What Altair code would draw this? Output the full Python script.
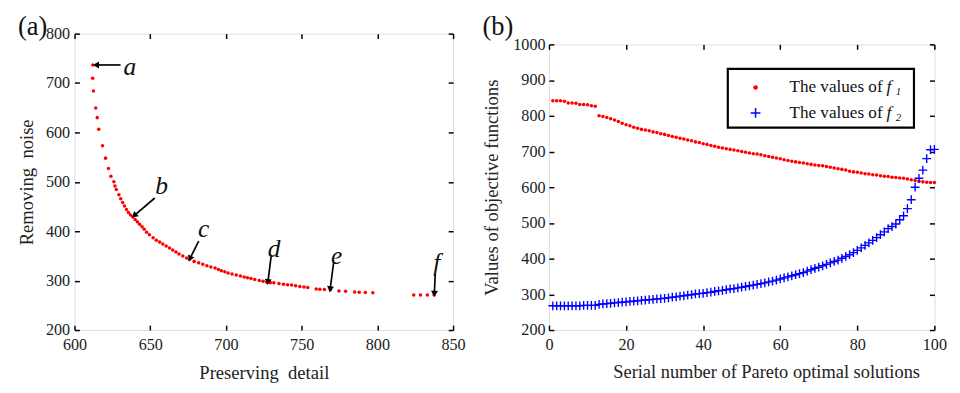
import math
import altair as alt
import pandas as pd

# ---------------- data ----------------
# panel (a): Pareto front
left_x = [612.1, 612.0, 612.5, 614.0, 615.0, 616.0, 618.5, 620.5, 622.4, 624.0,
          626.0, 626.7, 627.6, 629.3, 630.5, 631.8, 633.0, 634.3, 635.6, 637.0,
          638.5, 640.0, 641.5, 643.0, 644.6, 646.0, 647.6, 649.5, 651.9, 654.0,
          656.2, 658.3, 660.5, 662.7, 664.8, 667.0, 669.0, 671.5, 674.0, 676.0,
          679.0, 682.0, 684.7, 687.4, 690.0, 692.8, 695.0, 697.0, 699.2, 701.4,
          704.0, 706.8, 709.5, 712.0, 714.2, 716.5, 719.0, 722.0, 724.5, 727.0,
          729.3, 731.6, 735.0, 738.0, 740.7, 743.4, 746.0, 748.8, 751.5, 754.0,
          759.6, 762.0, 765.0, 769.0, 774.6, 779.0, 785.0, 788.0, 792.0, 797.0,
          824.0, 828.5, 833.0, 837.5]
left_y = [736.6, 709.5, 684.0, 649.5, 630.0, 606.5, 573.0, 548.0, 527.0, 511.5,
          500.0, 491.6, 484.5, 474.0, 466.0, 458.0, 451.0, 444.0, 438.0, 433.0,
          429.0, 424.0, 419.0, 414.0, 409.0, 404.0, 398.0, 393.0, 387.0, 382.0,
          378.0, 374.0, 370.0, 366.0, 362.0, 358.0, 354.0, 350.0, 346.0, 343.0,
          339.0, 336.0, 333.0, 330.0, 327.5, 325.4, 322.5, 320.0, 318.0, 315.5,
          313.5, 311.5, 309.5, 307.5, 306.0, 304.4, 302.5, 300.5, 298.8, 297.0,
          296.0, 295.5, 294.0, 292.5, 291.8, 291.0, 289.5, 288.0, 287.0, 286.0,
          283.0, 282.5, 282.0, 281.5, 279.0, 278.5, 277.0, 276.5, 276.0, 275.5,
          271.0, 271.0, 271.0, 271.0]

# annotations of panel (a): letter, letter position, arrow tail, arrow head
ann_label = ["a", "b", "c", "d", "e", "f"]
ann_lx = [636.5, 657.5, 685.3, 731.8, 773.1, 839.2]
ann_ly = [733.0, 491.0, 404.0, 364.4, 350.5, 335.3]
ann_tx = [630.4, 653.0, 682.0, 729.8, 771.2, 838.2]
ann_ty = [736.6, 467.3, 380.0, 348.5, 338.6, 312.3]
ann_hx = [614.2, 639.4, 676.2, 727.7, 768.8, 837.6]
ann_hy = [736.6, 431.7, 344.6, 297.0, 282.6, 273.5]

# panel (b): objective values of the 100 Pareto optimal solutions
serial = list(range(1, 101))
f1 = [842, 842, 842, 841, 836, 836, 835, 832, 832, 831,
      828, 827, 800, 798, 795, 792, 788, 784, 779, 775,
      772, 768, 765, 762, 760, 758, 755, 753, 750, 748,
      745, 742, 740, 737, 735, 732, 730, 727, 725, 722,
      720, 717, 715, 712, 710, 708, 706, 704, 702, 700,
      698, 696, 694, 693, 691, 688, 686, 684, 682, 680,
      677, 675, 673, 671, 669, 668, 666, 664, 662, 661,
      660, 658, 656, 654, 652, 650, 648, 645, 643, 642,
      640, 638, 637, 635, 634, 632, 631, 630, 628, 627,
      626, 625, 623, 621, 619, 617, 615, 614, 613, 613]
f2 = [268, 268, 268, 268, 268, 268, 268, 268, 269, 269,
      269, 269, 272, 273, 274, 275, 276, 277, 278, 279,
      280, 281, 282, 283, 284, 285, 286, 287, 288, 289,
      290, 292, 293, 295, 296, 298, 299, 301, 302, 303,
      305, 306, 308, 310, 311, 313, 315, 316, 318, 320,
      322, 324, 326, 328, 330, 332, 335, 337, 340, 343,
      346, 349, 352, 355, 358, 361, 365, 369, 373, 376,
      380, 384, 388, 392, 396, 401, 406, 411, 417, 423,
      430, 437, 444, 451, 459, 467, 475, 484, 490, 497,
      509, 520, 540, 565, 600, 625, 648, 680, 705, 706]

# legend of panel (b) (drawn by hand so that f can be italic with a subscript)
leg_text = ["The values of", "The values of"]
leg_sub = ["1", "2"]
leg_row_y = [879.5, 808.0]
leg_sub_y = [866.0, 794.5]
leg_box = dict(x=46.4, x2=94.7, y=931.5, y2=767.1)
leg_sym_x = 53.6
leg_text_x = 62.4
leg_f_x = 87.6
leg_sub_x = 90.0

# ---------------- styling ----------------
FONT = "Liberation Serif"
LW, LH = 387, 303
RW, RH = 394, 292
LXD, LYD = [600, 850], [200, 800]
RXD, RYD = [0, 100], [200, 1000]
RED, BLUE = "#ff0000", "#0000ff"
CROSS = "M-1,0L1,0M0,-1L0,1"


def axis(orient, values, title=None, labels=True, **kw):
    params = dict(orient=orient, values=values, domain=False, grid=False,
                  ticks=True, tickSize=5, offset=-5, tickColor="black",
                  tickWidth=1.5, labels=labels, labelFont=FONT, format="d",
                  labelFontSize=16.5, labelColor="#222", labelFlush=False,
                  titleFont=FONT, titleFontSize=19, titleFontWeight="normal",
                  titleColor="#222", title=title)
    params.update(kw)
    return alt.Axis(**params)


# ---------------- panel (a) ----------------
dfa = pd.DataFrame({"x": left_x, "y": left_y})
xs_a = alt.Scale(domain=LXD, nice=False, zero=False)
ys_a = alt.Scale(domain=LYD, nice=False, zero=False)

pts_a = alt.Chart(dfa).mark_circle(color=RED, size=13, opacity=1).encode(
    x=alt.X("x:Q", scale=xs_a,
            axis=axis("bottom", [600, 650, 700, 750, 800, 850],
                      "Preserving\u00a0\u00a0detail", labelPadding=7,
                      titlePadding=11)),
    y=alt.Y("y:Q", scale=ys_a,
            axis=axis("left", [200, 300, 400, 500, 600, 700, 800],
                      "Removing\u00a0\u00a0noise", labelPadding=5,
                      titlePadding=9)),
)
frame_a = alt.Chart(dfa).mark_point(opacity=0).encode(
    x=alt.X("x:Q", scale=xs_a,
            axis=axis("top", [600, 650, 700, 750, 800, 850], labels=False)),
    y=alt.Y("y:Q", scale=ys_a,
            axis=axis("right", [200, 300, 400, 500, 600, 700, 800], labels=False)),
)

px_x = LW / (LXD[1] - LXD[0])
px_y = LH / (LYD[1] - LYD[0])
angles = []
for tx, ty, hx, hy in zip(ann_tx, ann_ty, ann_hx, ann_hy):
    dx = (hx - tx) * px_x
    dy = -(hy - ty) * px_y
    angles.append((math.degrees(math.atan2(dx, -dy)) + 360) % 360)

dfann = pd.DataFrame({"label": ann_label, "lx": ann_lx, "ly": ann_ly,
                      "tx": ann_tx, "ty": ann_ty, "hx": ann_hx, "hy": ann_hy,
                      "ang": angles})
shafts = alt.Chart(dfann).mark_rule(color="black", strokeWidth=1.7).encode(
    x=alt.X("tx:Q", scale=xs_a, axis=None), y=alt.Y("ty:Q", scale=ys_a, axis=None),
    x2="hx:Q", y2="hy:Q")
heads = alt.Chart(dfann).mark_point(shape="triangle-up", filled=True,
                                    color="black", size=50, opacity=1).encode(
    x=alt.X("hx:Q", scale=xs_a, axis=None), y=alt.Y("hy:Q", scale=ys_a, axis=None),
    angle=alt.Angle("ang:Q", scale=None))
letters = alt.Chart(dfann).mark_text(font=FONT, fontSize=26, fontStyle="italic",
                                     color="#111").encode(
    x=alt.X("lx:Q", scale=xs_a, axis=None), y=alt.Y("ly:Q", scale=ys_a, axis=None),
    text="label:N")

left = alt.layer(pts_a, frame_a, shafts, heads, letters).resolve_axis(
    x="independent", y="independent").properties(
    width=LW, height=LH,
    title=alt.TitleParams("(a)", anchor="start", frame="bounds", font=FONT,
                          fontSize=27, fontWeight="normal", color="#111",
                          offset=-15))

# ---------------- panel (b) ----------------
dfb = pd.DataFrame({"n": serial, "f1": f1, "f2": f2})
xs_b = alt.Scale(domain=RXD, nice=False, zero=False)
ys_b = alt.Scale(domain=RYD, nice=False, zero=False)

pts_f1 = alt.Chart(dfb).mark_circle(color=RED, size=13, opacity=1).encode(
    x=alt.X("n:Q", scale=xs_b,
            axis=axis("bottom", [0, 20, 40, 60, 80, 100],
                      "Serial number of Pareto optimal solutions",
                      labelPadding=7, titlePadding=10, titleX=222,
                      titleFontSize=18.8)),
    y=alt.Y("f1:Q", scale=ys_b,
            axis=axis("left", [200, 300, 400, 500, 600, 700, 800, 900, 1000],
                      "Values of objective functions", labelPadding=4,
                      titlePadding=12)),
)
pts_f2 = alt.Chart(dfb).mark_point(shape=CROSS, filled=False, color=BLUE,
                                   size=80, strokeWidth=1.4, opacity=1).encode(
    x=alt.X("n:Q", scale=xs_b,
            axis=axis("top", [0, 20, 40, 60, 80, 100], labels=False)),
    y=alt.Y("f2:Q", scale=ys_b,
            axis=axis("right", [200, 300, 400, 500, 600, 700, 800, 900, 1000],
                      labels=False)),
)

dfbox = pd.DataFrame([leg_box])
box = alt.Chart(dfbox).mark_rect(fill="white", stroke="black", strokeWidth=2.2).encode(
    x=alt.X("x:Q", scale=xs_b, axis=None), x2="x2:Q",
    y=alt.Y("y:Q", scale=ys_b, axis=None), y2="y2:Q")
dfleg = pd.DataFrame({"sx": [leg_sym_x] * 2, "ry": leg_row_y, "sy": leg_sub_y,
                      "txt": leg_text, "sub": leg_sub, "tx": [leg_text_x] * 2,
                      "fx": [leg_f_x] * 2, "subx": [leg_sub_x] * 2,
                      "f": ["f", "f"]})
leg_dot = alt.Chart(dfleg.iloc[[0]]).mark_circle(color=RED, size=22, opacity=1).encode(
    x=alt.X("sx:Q", scale=xs_b, axis=None), y=alt.Y("ry:Q", scale=ys_b, axis=None))
leg_cross = alt.Chart(dfleg.iloc[[1]]).mark_point(
    shape=CROSS, filled=False, color=BLUE, size=100, strokeWidth=1.5, opacity=1).encode(
    x=alt.X("sx:Q", scale=xs_b, axis=None), y=alt.Y("ry:Q", scale=ys_b, axis=None))
leg_txt = alt.Chart(dfleg).mark_text(font=FONT, fontSize=17.5, align="left",
                                     baseline="middle", color="#111").encode(
    x=alt.X("tx:Q", scale=xs_b, axis=None), y=alt.Y("ry:Q", scale=ys_b, axis=None),
    text="txt:N")
leg_f = alt.Chart(dfleg).mark_text(font=FONT, fontSize=18, fontStyle="italic",
                                   align="left", baseline="middle",
                                   color="#111").encode(
    x=alt.X("fx:Q", scale=xs_b, axis=None), y=alt.Y("ry:Q", scale=ys_b, axis=None),
    text="f:N")
leg_s = alt.Chart(dfleg).mark_text(font=FONT, fontSize=11, fontStyle="italic",
                                   align="left", baseline="middle",
                                   color="#111").encode(
    x=alt.X("subx:Q", scale=xs_b, axis=None), y=alt.Y("sy:Q", scale=ys_b, axis=None),
    text="sub:N")

right = alt.layer(pts_f1, pts_f2, box, leg_dot, leg_cross, leg_txt, leg_f,
                  leg_s).resolve_axis(x="independent", y="independent").properties(
    width=RW, height=RH,
    title=alt.TitleParams("(b)", anchor="start", frame="bounds", font=FONT,
                          fontSize=27, fontWeight="normal", color="#111",
                          offset=-4))


# thin empty strips above each panel so that each panel's top is laid out on its own
def spacer(w):
    return alt.Chart(pd.DataFrame({"v": [0]})).mark_point(opacity=0).encode(
        x=alt.value(0), y=alt.value(0)).properties(
        width=w, height=1, view=alt.ViewBackground(strokeOpacity=0))


chart = alt.hconcat(alt.vconcat(spacer(LW), left, spacing=0),
                    alt.vconcat(spacer(RW), right, spacing=0),
                    spacing=16).properties(
    padding={"left": 9, "top": -6, "right": 5, "bottom": 0}).configure_view(
    stroke="black", strokeWidth=2.2).configure(background="white")

chart.save("out.html", embed_options={"renderer": "svg", "actions": False})
